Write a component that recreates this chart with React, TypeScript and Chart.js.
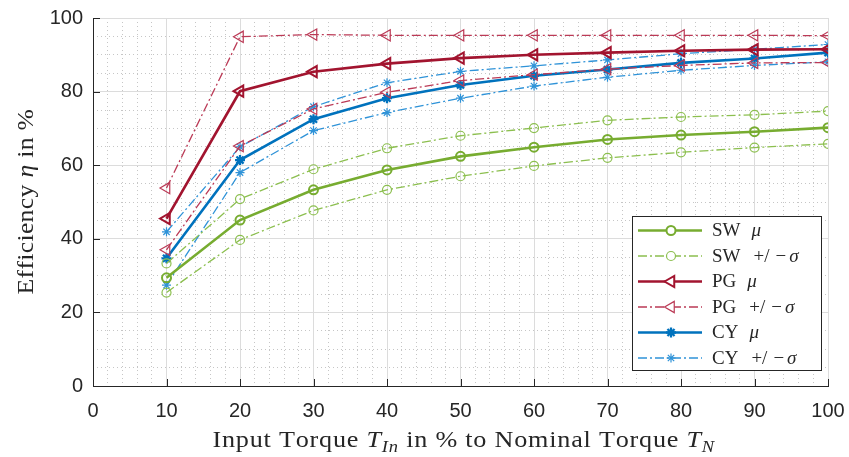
import React, { useEffect, useRef } from 'react';
import { Chart, registerables } from 'chart.js';
import { drawPoint } from 'chart.js/helpers';

Chart.register(...registerables);

// ---- data ----
const TORQUE = [10, 20, 30, 40, 50, 60, 70, 80, 90, 100];
const SW_MEAN = [29.4, 45.1, 53.3, 58.7, 62.4, 64.9, 67.0, 68.2, 69.1, 70.2];
const SW_UPPER = [33.3, 50.8, 58.9, 64.6, 68.0, 70.1, 72.2, 73.1, 73.7, 74.7];
const SW_LOWER = [25.4, 39.7, 47.7, 53.3, 57.0, 59.8, 62.0, 63.5, 64.8, 65.8];
const PG_MEAN = [45.5, 80.1, 85.4, 87.6, 89.1, 90.0, 90.6, 91.1, 91.4, 91.5];
const PG_UPPER = [53.8, 94.9, 95.5, 95.3, 95.3, 95.3, 95.3, 95.3, 95.3, 95.2];
const PG_LOWER = [37.0, 65.2, 75.3, 79.8, 83.0, 84.6, 86.1, 87.1, 87.8, 87.9];
const CY_MEAN = [34.7, 61.4, 72.5, 78.2, 81.8, 84.3, 86.0, 87.8, 89.0, 90.6];
const CY_UPPER = [41.9, 65.0, 75.9, 82.4, 85.5, 87.0, 88.6, 90.3, 91.5, 92.8];
const CY_LOWER = [27.4, 58.0, 69.4, 74.3, 78.2, 81.5, 83.9, 85.8, 87.1, 88.1];

const X_TITLE = [
  { t: 'Input Torque ' },
  { t: 'T', it: true },
  { t: 'In', it: true, sub: true },
  { t: ' in % to Nominal Torque ' },
  { t: 'T', it: true },
  { t: 'N', it: true, sub: true },
];
const Y_TITLE = [{ t: 'Efficiency ' }, { t: 'η', it: true }, { t: ' in %' }];

const SW_C = '#77AC30';
const SW_L = '#8cbf4f';
const PG_C = '#A2142F';
const PG_L = '#bb3a56';
const CY_C = '#0072BD';
const CY_L = '#2f93d8';
const DASHDOT = [9, 3, 2, 3];
const TEXT_C = '#262626';
const SERIF = '"Liberation Serif", "Times New Roman", serif';
const SANS = '"Liberation Sans", Arial, sans-serif';

type Seg = { t: string; it?: boolean; sub?: boolean };

function segFont(s: Seg, size: number) {
  return `${s.it ? 'italic ' : ''}${s.sub ? Math.round(size * 0.72) : size}px ${SERIF}`;
}

function richWidth(ctx: CanvasRenderingContext2D, segs: Seg[], size: number) {
  let w = 0;
  segs.forEach((s) => {
    ctx.font = segFont(s, size);
    w += ctx.measureText(s.t).width;
  });
  return w;
}

// draws mixed-style text; optional target width reached by a slight horizontal widening
// plus a small extra letter spacing (imitating the wider LaTeX font of the original)
function drawRich(ctx: CanvasRenderingContext2D, segs: Seg[], x: number, y: number, size: number, align: 'center' | 'left', target?: number, sx = 1) {
  let count = 0;
  segs.forEach((s) => { count += [...s.t].length; });
  const natural = richWidth(ctx, segs, size) * sx;
  const ls = target && count > 1 ? Math.max(0, (target - natural) / (count - 1)) : 0;
  const total = natural + ls * (count - 1);
  const x0 = align === 'center' ? x - total / 2 : x;
  ctx.save();
  ctx.translate(x0, y);
  ctx.textAlign = 'left';
  ctx.textBaseline = 'alphabetic';
  let cx = 0;
  segs.forEach((s) => {
    ctx.font = segFont(s, size);
    for (const ch of s.t) {
      ctx.save();
      ctx.translate(cx, s.sub ? size * 0.2 : 0);
      ctx.scale(sx, 1);
      ctx.fillText(ch, 0, 0);
      ctx.restore();
      cx += ctx.measureText(ch).width * sx + ls;
    }
  });
  ctx.restore();
  return total;
}

const mk = (vals: number[]) => TORQUE.map((x, i) => ({ x, y: vals[i] }));

function series(label: string, vals: number[], color: string, mean: boolean, style: string, radius: number, rot: number, inLegend: boolean) {
  return {
    label,
    data: mk(vals),
    xAxisID: 'x',
    yAxisID: 'y',
    borderColor: color,
    backgroundColor: 'rgba(0,0,0,0)',
    borderWidth: mean ? 2.6 : 1.3,
    borderDash: mean ? [] : DASHDOT,
    pointStyle: style,
    pointRotation: rot,
    pointRadius: radius,
    pointBorderWidth: mean ? (style === 'star' ? 2.3 : 2) : 1.2,
    pointBorderColor: color,
    pointBackgroundColor: 'rgba(255,255,255,0)',
    tension: 0,
    fill: false,
    inLegend,
  };
}

const legendPlugin = {
  id: 'customLegend',
  afterDraw(chart: any) {
    const ctx: CanvasRenderingContext2D = chart.ctx;
    ctx.save();
    const bx = 632.5, by = 216.5, bw = 189, bh = 154;
    ctx.fillStyle = '#ffffff';
    ctx.fillRect(bx, by, bw, bh);
    ctx.strokeStyle = TEXT_C;
    ctx.lineWidth = 1;
    ctx.strokeRect(bx, by, bw, bh);
    const items = chart.data.datasets.filter((d: any) => d.inLegend);
    const FS = 19;
    items.forEach((d: any, i: number) => {
      const y = 230.5 + i * 25.5;
      ctx.save();
      ctx.strokeStyle = d.borderColor;
      ctx.lineWidth = d.borderWidth;
      ctx.setLineDash(d.borderDash);
      ctx.beginPath();
      ctx.moveTo(638, y);
      ctx.lineTo(702, y);
      ctx.stroke();
      ctx.setLineDash([]);
      ctx.fillStyle = '#ffffff';
      ctx.lineWidth = d.pointBorderWidth;
      drawPoint(ctx, { pointStyle: d.pointStyle, rotation: d.pointRotation, radius: d.pointRadius, borderWidth: d.pointBorderWidth } as any, 671, y);
      ctx.restore();
      ctx.fillStyle = TEXT_C;
      const lab: string = d.label;
      const name = lab.slice(0, 2);
      const sym = lab.slice(-1);
      const by0 = y + 5.5;
      let cx = 712;
      cx += drawRich(ctx, [{ t: name }], cx, by0, FS, 'left');
      if (lab.includes('/')) {
        cx += 13;
        cx += drawRich(ctx, [{ t: '+/' }], cx, by0, FS, 'left');
        cx += 6;
        cx += drawRich(ctx, [{ t: '\u2212' }], cx, by0, FS, 'left');
        cx += 3;
      } else {
        cx += 11;
      }
      drawRich(ctx, [{ t: sym, it: true }], cx, by0, FS, 'left');
    });
    ctx.restore();
  },
};

const decorPlugin = {
  id: 'decor',
  beforeDatasetsDraw(chart: any) {
    const ctx: CanvasRenderingContext2D = chart.ctx;
    const { left, bottom } = chart.chartArea;
    const xs = chart.scales.x;
    const ys = chart.scales.y;
    ctx.save();
    ctx.strokeStyle = TEXT_C;
    ctx.lineWidth = 1;
    ctx.beginPath();
    xs.ticks.forEach((t: any) => {
      const px = Math.round(xs.getPixelForValue(t.value)) + 0.5;
      ctx.moveTo(px, bottom);
      ctx.lineTo(px, bottom - 7);
    });
    ys.ticks.forEach((t: any) => {
      const py = Math.round(ys.getPixelForValue(t.value)) + 0.5;
      ctx.moveTo(left, py);
      ctx.lineTo(left + 7, py);
    });
    ctx.stroke();
    ctx.restore();
  },
  afterDraw(chart: any) {
    const ctx: CanvasRenderingContext2D = chart.ctx;
    const { left, right, top, bottom } = chart.chartArea;
    ctx.save();
    ctx.fillStyle = TEXT_C;
    drawRich(ctx, X_TITLE, (left + right) / 2 + 1, 447, 24, 'center', 498, 1.09);
    ctx.translate(33, (top + bottom) / 2);
    ctx.rotate(-Math.PI / 2);
    drawRich(ctx, Y_TITLE, 0, 0, 24, 'center', 185, 1.07);
    ctx.restore();
  },
};

const zeroPad = (s: any) => {
  s.paddingLeft = 0;
  s.paddingRight = 0;
  s.paddingTop = 0;
  s.paddingBottom = 0;
};

export default function App() {
  const ref = useRef<HTMLCanvasElement | null>(null);
  useEffect(() => {
    if (!ref.current) return;
    const datasets: any[] = [
      series('SW μ', SW_MEAN, SW_C, true, 'circle', 4.5, 0, true),
      series('SW +/ − σ', SW_UPPER, SW_L, false, 'circle', 4.5, 0, true),
      series('SW +/ − σ', SW_LOWER, SW_L, false, 'circle', 4.5, 0, false),
      series('PG μ', PG_MEAN, PG_C, true, 'triangle', 6.5, -90, true),
      series('PG +/ − σ', PG_UPPER, PG_L, false, 'triangle', 6.5, -90, true),
      series('PG +/ − σ', PG_LOWER, PG_L, false, 'triangle', 6.5, -90, false),
      series('CY μ', CY_MEAN, CY_C, true, 'star', 5, 0, true),
      series('CY +/ − σ', CY_UPPER, CY_L, false, 'star', 4.5, 0, true),
      series('CY +/ − σ', CY_LOWER, CY_L, false, 'star', 4.5, 0, false),
    ];
    const chart = new Chart(ref.current, {
      type: 'line',
      data: { datasets },
      options: {
        animation: false,
        responsive: false,
        maintainAspectRatio: false,
        devicePixelRatio: 1,
        layout: { padding: { left: 0, top: 18, right: 21, bottom: 0 } },
        plugins: { legend: { display: false }, tooltip: { enabled: false }, title: { display: false } },
        scales: {
          x: {
            type: 'linear',
            position: 'bottom',
            min: 0,
            max: 100,
            ticks: { stepSize: 10, autoSkip: false, maxRotation: 0, padding: 13, color: TEXT_C, font: { family: SANS, size: 20 } },
            grid: { color: '#dcdcdc', lineWidth: 1, drawTicks: false, z: -1 },
            border: { display: true, color: TEXT_C, width: 1 },
            afterFit: (s: any) => { s.height = 71; zeroPad(s); },
          },
          xMinor: {
            type: 'linear',
            position: 'bottom',
            min: 0,
            max: 100,
            ticks: { display: false, stepSize: 2 },
            grid: { color: '#c6c6c6', lineWidth: 1, drawTicks: false, z: -2 },
            border: { display: false, dash: [1, 3] },
            afterFit: (s: any) => { s.height = 0; zeroPad(s); },
          },
          y: {
            type: 'linear',
            position: 'left',
            min: 0,
            max: 100,
            ticks: { stepSize: 20, padding: 10, color: TEXT_C, font: { family: SANS, size: 20 } },
            grid: { color: '#dcdcdc', lineWidth: 1, drawTicks: false, z: -1 },
            border: { display: true, color: TEXT_C, width: 1 },
            afterFit: (s: any) => { s.width = 93; zeroPad(s); },
          },
          yMinor: {
            type: 'linear',
            position: 'left',
            min: 0,
            max: 100,
            ticks: { display: false, stepSize: 5 },
            grid: { color: '#c6c6c6', lineWidth: 1, drawTicks: false, z: -2 },
            border: { display: false, dash: [1, 3] },
            afterFit: (s: any) => { s.width = 0; zeroPad(s); },
          },
        },
      } as any,
      plugins: [decorPlugin, legendPlugin],
    });
    return () => chart.destroy();
  }, []);
  return (
    <div style={{ position: 'fixed', left: 0, top: 0, width: 849, height: 457, background: '#ffffff' }}>
      <canvas ref={ref} width={849} height={457} style={{ display: 'block', width: 849, height: 457 }} />
    </div>
  );
}
